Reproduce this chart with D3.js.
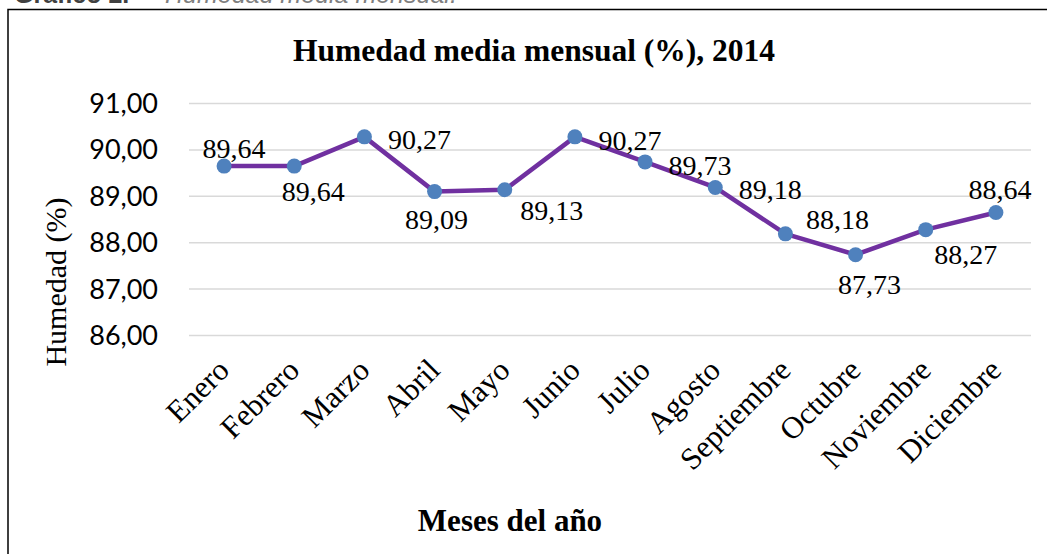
<!DOCTYPE html>
<html>
<head>
<meta charset="utf-8">
<script src="https://cdn.jsdelivr.net/npm/d3@7"></script>
<style>
  html, body { margin: 0; padding: 0; background: #fff; }
  svg { display: block; }
</style>
</head>
<body>
<svg id="chart" width="1047" height="554"></svg>
<script>
const months = ["Enero","Febrero","Marzo","Abril","Mayo","Junio","Julio","Agosto","Septiembre","Octubre","Noviembre","Diciembre"];
const humidity = [89.64, 89.64, 90.27, 89.09, 89.13, 90.27, 89.73, 89.18, 88.18, 87.73, 88.27, 88.64];
const yTicks = [86, 87, 88, 89, 90, 91];
// data label offsets from each point, in px (style only)
const labelDx = [10, 19, 55, 2, 47, 55, 55, 55, 52, 14, 40, 4];
const labelDy = [-8, 35, 12, 37, 30, 13, 13, 12, -5, 39, 34, -14];

const svg = d3.select("#chart");
const W = 1047, H = 554;
const plot = { left: 189, right: 1031, top: 103, bottom: 335 };

const x = d3.scaleBand().domain(months).range([plot.left, plot.right]).paddingInner(0).paddingOuter(0);
const y = d3.scaleLinear().domain([86, 91]).range([plot.bottom, plot.top]);
const fmt = v => d3.format(".2f")(v).replace(".", ",");
const cx = m => x(m) + x.bandwidth() / 2;
const serif = "'Liberation Serif', 'Times New Roman', serif";

// caption cut off at top
svg.append("text").attr("x", 14).attr("y", 3)
  .attr("font-family", "'Liberation Sans', Arial, sans-serif").attr("font-size", 25)
  .attr("font-weight", "bold").attr("fill", "#404040").text("Gráfico 2.");
svg.append("text").attr("x", 165).attr("y", 3)
  .attr("font-family", "'Liberation Sans', Arial, sans-serif").attr("font-size", 25)
  .attr("font-style", "italic").attr("fill", "#7f7f7f").text("Humedad media mensual.");

// frame (top and left edges)
svg.append("path").attr("d", `M8,${H} L8,9.5 L${W},9.5`)
  .attr("fill", "none").attr("stroke", "#000").attr("stroke-width", 1.5);

// gridlines + y tick labels
const yAxis = d3.axisLeft(y).tickValues(yTicks).tickSize(-(plot.right - plot.left)).tickFormat(fmt);
const gy = svg.append("g").attr("transform", `translate(${plot.left},0)`).call(yAxis);
gy.select(".domain").remove();
gy.selectAll(".tick line").attr("stroke", "#d9d9d9").attr("stroke-width", 1.5);
gy.selectAll(".tick text").attr("x", -31).attr("dy", "0.35em")
  .attr("font-family", "Lato, 'Open Sans', sans-serif").attr("font-size", 27).attr("fill", "#000");

// x axis labels
const xAxis = d3.axisBottom(x).tickSize(0);
const gx = svg.append("g").attr("transform", `translate(0,${plot.bottom})`).call(xAxis);
gx.select(".domain").remove();
gx.selectAll(".tick text")
  .attr("font-family", serif).attr("font-size", 31).attr("fill", "#000")
  .attr("text-anchor", "end").attr("dy", 0).attr("y", 0)
  .attr("transform", "translate(7,37) rotate(-45)");

// line
const line = d3.line().x((d, i) => cx(months[i])).y(d => y(d));
svg.append("path").datum(humidity).attr("d", line)
  .attr("fill", "none").attr("stroke", "#7030A0").attr("stroke-width", 4.5).attr("stroke-linejoin", "round");

// markers
svg.selectAll("circle.pt").data(humidity).enter().append("circle")
  .attr("class", "pt")
  .attr("cx", (d, i) => cx(months[i])).attr("cy", d => y(d)).attr("r", 7.5)
  .attr("fill", "#4F81BD");

// data labels
svg.selectAll("text.lbl").data(humidity).enter().append("text")
  .attr("class", "lbl")
  .attr("x", (d, i) => cx(months[i]) + labelDx[i])
  .attr("y", (d, i) => y(d) + labelDy[i])
  .attr("text-anchor", "middle")
  .attr("font-family", serif).attr("font-size", 28).attr("fill", "#000")
  .text(d => fmt(d));

// title
svg.append("text").attr("x", 534).attr("y", 61).attr("text-anchor", "middle")
  .attr("font-family", serif).attr("font-size", 31.5).attr("font-weight", "bold")
  .text("Humedad media mensual (%), 2014");

// axis titles
svg.append("text").attr("transform", "translate(66,282) rotate(-90)").attr("text-anchor", "middle")
  .attr("font-family", serif).attr("font-size", 30)
  .text("Humedad (%)");
svg.append("text").attr("x", 510).attr("y", 531).attr("text-anchor", "middle")
  .attr("font-family", serif).attr("font-size", 31).attr("font-weight", "bold")
  .text("Meses del año");
</script>
</body>
</html>
